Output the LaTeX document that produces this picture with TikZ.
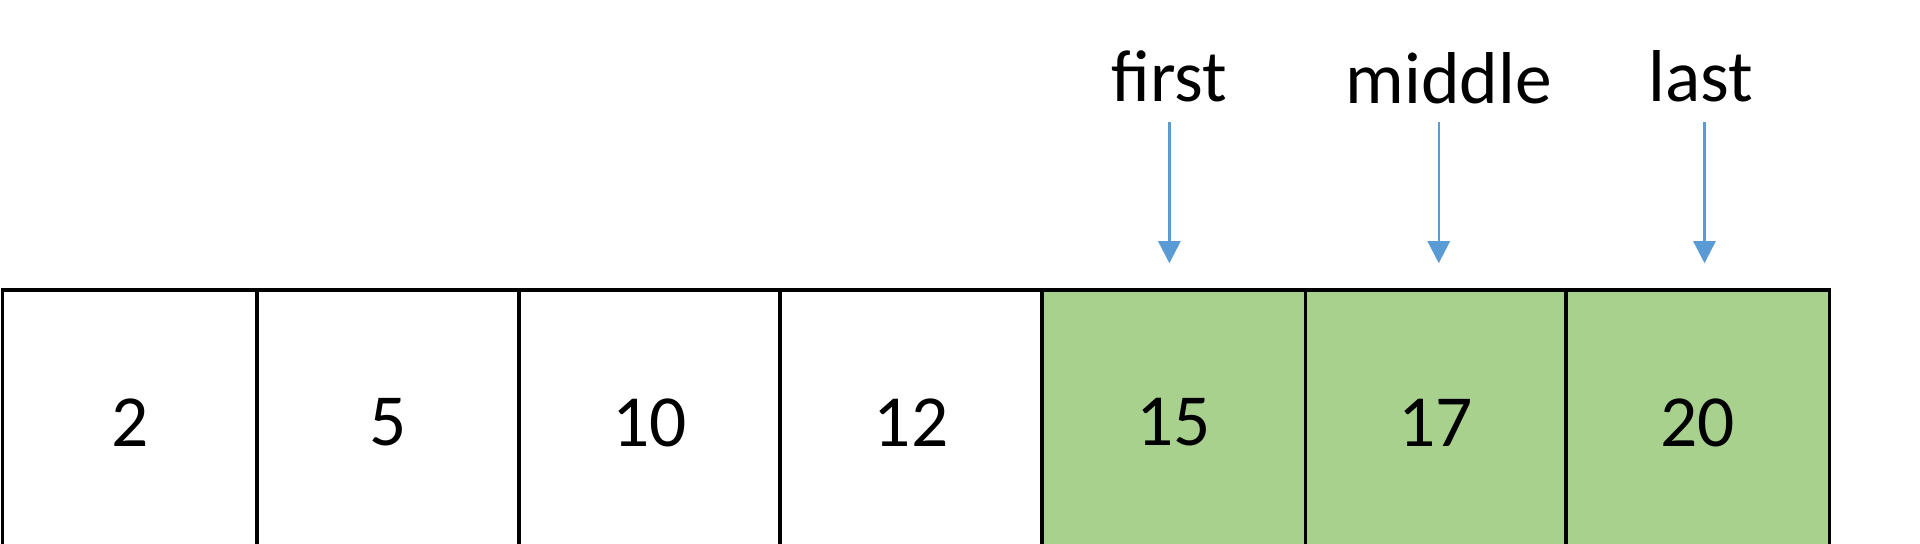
\documentclass[tikz,border=0pt]{standalone}
\usepackage{fontspec}
\setmainfont{Carlito}
\usetikzlibrary{arrows.meta}
\definecolor{cellgreen}{HTML}{A9D18E}
\definecolor{arrblue}{HTML}{5B9BD5}
\begin{document}
\begin{tikzpicture}[x=0.5pt,y=-0.5pt,
  cell/.style={draw=black,line width=1.4pt},
  lbl/.style={font=\fontsize{30}{33}\selectfont,inner sep=0pt},
  ptr/.style={draw=arrblue,line width=1pt,-{Triangle[width=9pt,length=9pt]}}]
\useasboundingbox (0,0) rectangle (1568,444);
\clip (0,0) rectangle (1568,444);
\fill[white] (0,0) rectangle (1568,444);
\foreach \a/\b/\v/\c/\n in {2/210/2/white/c1,210/424/5/white/c2,424/637/10/white/c3,637/851/12/white/c4,851/1066/15/cellgreen/c5,1066/1279/17/cellgreen/c6,1279/1494/20/cellgreen/c7}{
  \draw[cell,fill=\c] (\a,237) rectangle (\b,470);
  \node[lbl] (\n) at ({(\a+\b)/2},345) {\v};
}
\node[lbl] (first) at (955,62) {first};
\node[lbl] (middle) at (1183,64) {middle};
\node[lbl] (last) at (1389,62) {last};
\coordinate (t1) at (955,215); \coordinate (t2) at (1175,215); \coordinate (t3) at (1392,215);
\draw[ptr] (955,100) -- (t1);
\draw[ptr] (1175,100) -- (t2);
\draw[ptr] (1392,100) -- (t3);
\end{tikzpicture}
\end{document}
